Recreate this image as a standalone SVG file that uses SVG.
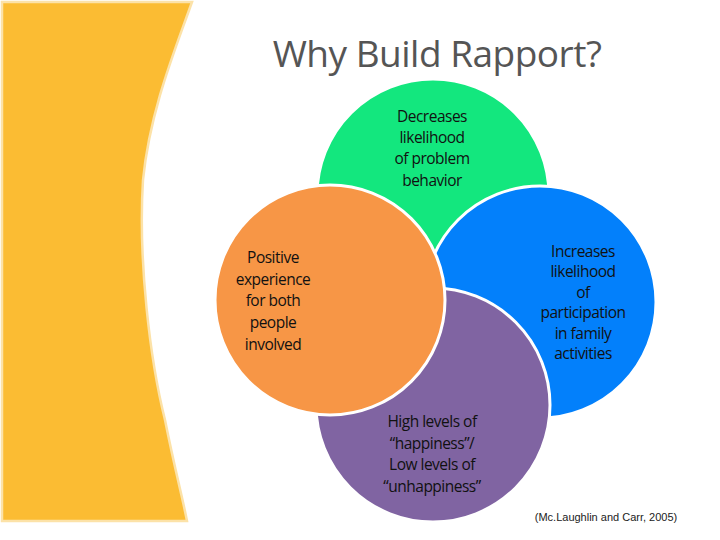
<svg xmlns="http://www.w3.org/2000/svg" width="720" height="540" viewBox="0 0 720 540">
<style>
.c{stroke:#fff;stroke-width:3}
.t{font-family:"Open Sans","Noto Sans",sans-serif;font-size:15.5px;fill:#111;text-anchor:middle;letter-spacing:-0.5px}
</style>
<rect width="720" height="540" fill="#fff"/>
<path d="M2,2 L192,2 C175,50 150,110 143,180 C138,260 150,360 165,420 C175,470 183,500 187,521 L2,521 Z" fill="#FBBC33" stroke="#FCE2A8" stroke-width="2.5"/>
<text x="437" y="67" font-family="Open Sans,Noto Sans,sans-serif" font-size="37" fill="#555" text-anchor="middle" letter-spacing="-0.5">Why Build Rapport?</text>
<g id="green"><circle class="c" cx="433" cy="195" r="116" fill="#13E77E"/>
<text class="t" x="432" y="122">Decreases</text><text class="t" x="432" y="143">likelihood</text><text class="t" x="432" y="164">of problem</text><text class="t" x="432" y="186">behavior</text></g>
<g id="blue"><circle class="c" cx="540" cy="302" r="116" fill="#0380FB"/>
<text class="t" x="583" y="257">Increases</text><text class="t" x="583" y="277">likelihood</text><text class="t" x="583" y="298">of</text><text class="t" x="583" y="318">participation</text><text class="t" x="583" y="339">in family</text><text class="t" x="583" y="359">activities</text></g>
<g id="purple"><circle class="c" cx="433" cy="405" r="117" fill="#8064A2"/>
<text class="t" x="432" y="427">High levels of</text><text class="t" x="432" y="449">“happiness”/</text><text class="t" x="432" y="470">Low levels of</text><text class="t" x="432" y="492">“unhappiness”</text></g>
<g id="orange"><circle class="c" cx="330" cy="300" r="115" fill="#F79646"/>
<text class="t" x="273" y="263">Positive</text><text class="t" x="273" y="285">experience</text><text class="t" x="273" y="306">for both</text><text class="t" x="273" y="328">people</text><text class="t" x="273" y="350">involved</text></g>
<g id="connectors"/>
<text x="606" y="521" font-family="Liberation Sans,sans-serif" font-size="11" fill="#222" text-anchor="middle">(Mc.Laughlin and Carr, 2005)</text>
</svg>
